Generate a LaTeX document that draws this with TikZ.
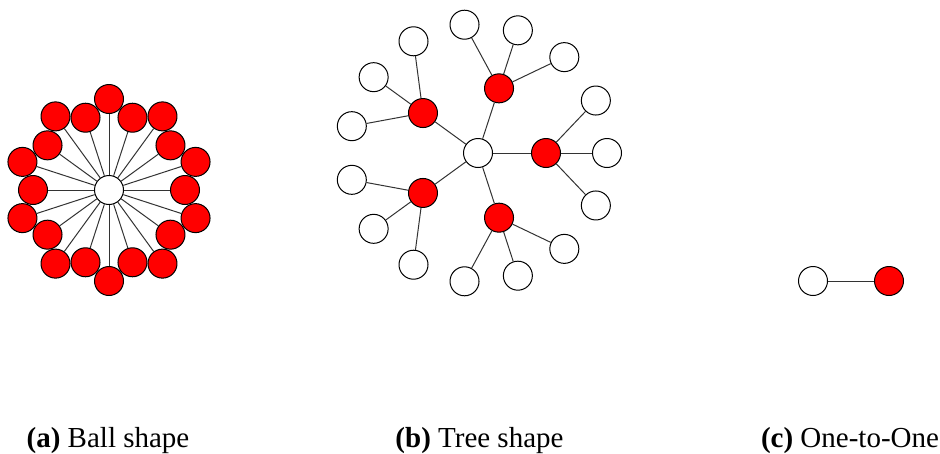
\documentclass[tikz,border=0pt]{standalone}
\usepackage{fontspec}
\setmainfont{Liberation Serif}
\begin{document}
\begin{tikzpicture}[x=1pt,y=-1pt,
  nd/.style={circle,draw=black,line width=1pt,minimum size=29pt,inner sep=0pt},
  rednd/.style={nd,fill=red},
  whtnd/.style={nd,fill=white},
  edge/.style={draw=black!80,line width=1pt},
  captext/.style={anchor=base,font=\fontsize{29}{33}\selectfont}]
\useasboundingbox (0,0) rectangle (940,453);
% (a) Ball shape
\node[whtnd] (bc) at (109,190) {};
\foreach \i in {0,...,9} {
  \node[rednd] (bi\i) at ([shift={(\i*36:76)}]bc) {};
  \node[rednd] (bo\i) at ([shift={(\i*36+18:91)}]bc) {};
  \draw[edge] (bc) -- (bi\i);
  \draw[edge] (bc) -- (bo\i);
}
% (b) Tree shape
\node[whtnd] (tc) at (478,153) {};
\foreach \k in {0,...,4} {
  \node[rednd] (tr\k) at ([shift={(-\k*72:68)}]tc) {};
  \draw[edge] (tc) -- (tr\k);
  \foreach \j/\d in {a/-24,b/0,c/24} {
    \node[whtnd] (tl\k\j) at ([shift={({-\k*72+\d}:129)}]tc) {};
    \draw[edge] (tr\k) -- (tl\k\j);
  }
}
% (c) One-to-One
\node[whtnd] (oa) at (813,281) {};
\node[rednd] (ob) at (889,281) {};
\draw[edge] (oa) -- (ob);
% captions
\node[captext] (ca) at (108,447) {\textbf{(a)} Ball shape};
\node[captext] (cb) at (479.5,447) {\textbf{(b)} Tree shape};
\node[captext] (cc) at (850,447) {\textbf{(c)} One-to-One};
\end{tikzpicture}
\end{document}
